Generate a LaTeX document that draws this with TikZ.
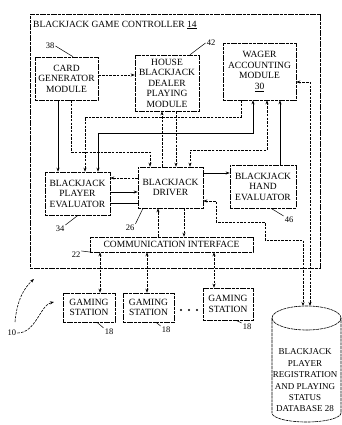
\documentclass[tikz,border=0pt]{standalone}
\usepackage{fontspec}
\setmainfont{Liberation Serif}
\usetikzlibrary{arrows.meta}
\begin{document}
\begin{tikzpicture}[x=1pt,y=-1pt,
  box/.style={draw, line width=0.6pt, dash pattern=on 3pt off 0.7pt, align=center, inner sep=0pt, font=\fontsize{9.5}{10.5}\selectfont},
  frame/.style={draw, line width=0.6pt, dash pattern=on 3pt off 0.7pt, inner sep=0pt},
  arr/.style={-{Stealth[length=4pt,width=3pt]}, line width=0.6pt},
  barr/.style={{Stealth[length=4pt,width=3pt]}-{Stealth[length=4pt,width=3pt]}, line width=0.6pt},
  dsh/.style={dash pattern=on 2.5pt off 1.2pt},
  lead/.style={line width=0.5pt},
  lbl/.style={font=\fontsize{8.5}{10}\selectfont, inner sep=1pt}]
\useasboundingbox (0,0) rectangle (342,425);

% controller frame and title
\node[frame, minimum width=290, minimum height=254] (ctrl) at (175,141) {};
\node[anchor=west, inner sep=0pt, font=\fontsize{9.5}{11}\selectfont] (title) at (33,25) {BLACKJACK GAME CONTROLLER \underline{14}};

% boxes
\node[box, minimum width=63, minimum height=43] (cg) at (66.5,78.5) {CARD\\GENERATOR\\MODULE};
\node[box, minimum width=64, minimum height=56] (house) at (167,83) {HOUSE\\BLACKJACK\\DEALER\\PLAYING\\MODULE};
\node[box, minimum width=73, minimum height=57] (wager) at (259.5,71.5) {WAGER\\ACCOUNTING\\MODULE\\\underline{30}};
\node[box, minimum width=65, minimum height=43] (pe) at (77.5,193.5) {BLACKJACK\\PLAYER\\EVALUATOR};
\node[box, minimum width=65, minimum height=41] (drv) at (170.5,187.5) {BLACKJACK\\DRIVER};
\node[box, minimum width=66, minimum height=43] (he) at (263,186.5) {BLACKJACK\\HAND\\EVALUATOR};
\node[box, minimum width=163, minimum height=15] (ci) at (171.5,244.5) {COMMUNICATION INTERFACE};
\node[box, minimum width=52, minimum height=29] (gs1) at (89,307.5) {GAMING\\STATION};
\node[box, minimum width=51, minimum height=29] (gs2) at (148.5,307.5) {GAMING\\STATION};
\node[box, minimum width=50, minimum height=32] (gs3) at (228,304) {GAMING\\STATION};

% database cylinder
\draw[line width=0.6pt, dash pattern=on 3pt off 0.7pt] (306.5,318) ellipse[x radius=34.5pt, y radius=12pt];
\draw[line width=0.6pt, dash pattern=on 3pt off 0.7pt] (272,318) -- (272,413) arc[start angle=180, end angle=360, x radius=34.5pt, y radius=9pt] -- (341,318);
\node[align=center, inner sep=0pt, font=\fontsize{9}{11.4}\selectfont] (db) at (305,380.5) {BLACKJACK\\PLAYER\\REGISTRATION\\AND PLAYING\\STATUS\\DATABASE 28};
\coordinate (dbtop) at (306,306);

% connectors
\draw[arr, dsh] (cg.east |- 0,75) -- (house.west |- 0,75);
\draw[arr] (58,0 |- cg.south) -- (58,0 |- pe.north);
\draw[arr, dsh] (71,0 |- cg.south) -- (71,152) -- (150,152) -- (150,0 |- drv.north);
\draw[arr, dsh] (176,0 |- house.south) -- (176,0 |- drv.north);
\draw[arr, dsh] (162,0 |- drv.north) -- (162,0 |- house.south);
\draw[arr, dsh] (241,0 |- wager.south) -- (241,117) -- (85,117) -- (85,0 |- pe.north);
\draw[barr] (253,0 |- wager.south) -- (253,133) -- (98,133) -- (98,0 |- pe.north);
\draw[barr, dsh] (267,0 |- wager.south) -- (267,150) -- (190,150) -- (190,0 |- drv.north);
\draw[arr] (280,0 |- he.north) -- (280,0 |- wager.south);
\draw[arr] (drv.east |- 0,173) -- (he.west |- 0,173);
\draw[arr, dsh] (drv.west |- 0,178) -- (pe.east |- 0,178);
\draw[arr] (pe.east |- 0,192) -- (drv.west |- 0,192);
\draw[line width=0.6pt] (pe.east |- 0,203) -- (drv.west |- 0,203);
\draw[arr, dsh] (158,0 |- ci.north) -- (158,0 |- drv.south);
\draw[arr, dsh] (184,0 |- drv.south) -- (184,0 |- ci.north);
\draw[barr, dsh] (100,0 |- ci.south) -- (100,0 |- gs1.north);
\draw[barr, dsh] (147,0 |- ci.south) -- (147,0 |- gs2.north);
\draw[barr, dsh] (214,0 |- ci.south) -- (214,0 |- gs3.north);
\draw[barr, dsh] (wager.east |- 0,82) -- (310,82) -- (310,0 |- dbtop);
\draw[barr, dsh] (drv.east |- 0,201) -- (216,201) -- (216,222) -- (265,222) -- (265,240) -- (303,240) -- (303,0 |- dbtop);

% dots between stations
\fill (181,310) circle[radius=1.1pt];
\fill (189,310) circle[radius=1.1pt];
\fill (197,310) circle[radius=1.1pt];

% reference labels
\node[lbl] (l38) at (50,46) {38};
\draw[lead] (l38.east) -- (73,0 |- cg.north);
\node[lbl] (l42) at (211,43) {42};
\draw[lead] (l42.west) -- (190,0 |- house.north);
\node[lbl] (l34) at (60,229) {34};
\draw[lead] (l34.north east) -- (78,0 |- pe.south);
\node[lbl] (l26) at (130,228) {26};
\draw[lead] (l26.north east) -- (143,0 |- drv.south);
\node[lbl] (l46) at (289,220) {46};
\draw[lead] (l46.north west) -- (271,0 |- he.south);
\node[lbl] (l22) at (76,255) {22};
\draw[lead] (l22.north east) -- (92,0 |- ci.south);
\node[lbl] (l18a) at (109,332) {18};
\draw[lead] (l18a.north west) -- (97,0 |- gs1.south);
\node[lbl] (l18b) at (166,330) {18};
\draw[lead] (l18b.north west) -- (156,0 |- gs2.south);
\node[lbl] (l18c) at (247,327) {18};
\draw[lead] (l18c.north west) -- (236,0 |- gs3.south);
\node[lbl] (l10) at (12,333) {10};
\coordinate (a10a) at (54,302);
\coordinate (a10b) at (34,279);
\coordinate (s10) at (15,322);
\draw[arr, dsh] (l10.east) .. controls (36,333) and (40,305) .. (a10a);
\draw[arr, dsh] (s10) .. controls (17,300) and (24,288) .. (a10b);
\end{tikzpicture}
\end{document}
